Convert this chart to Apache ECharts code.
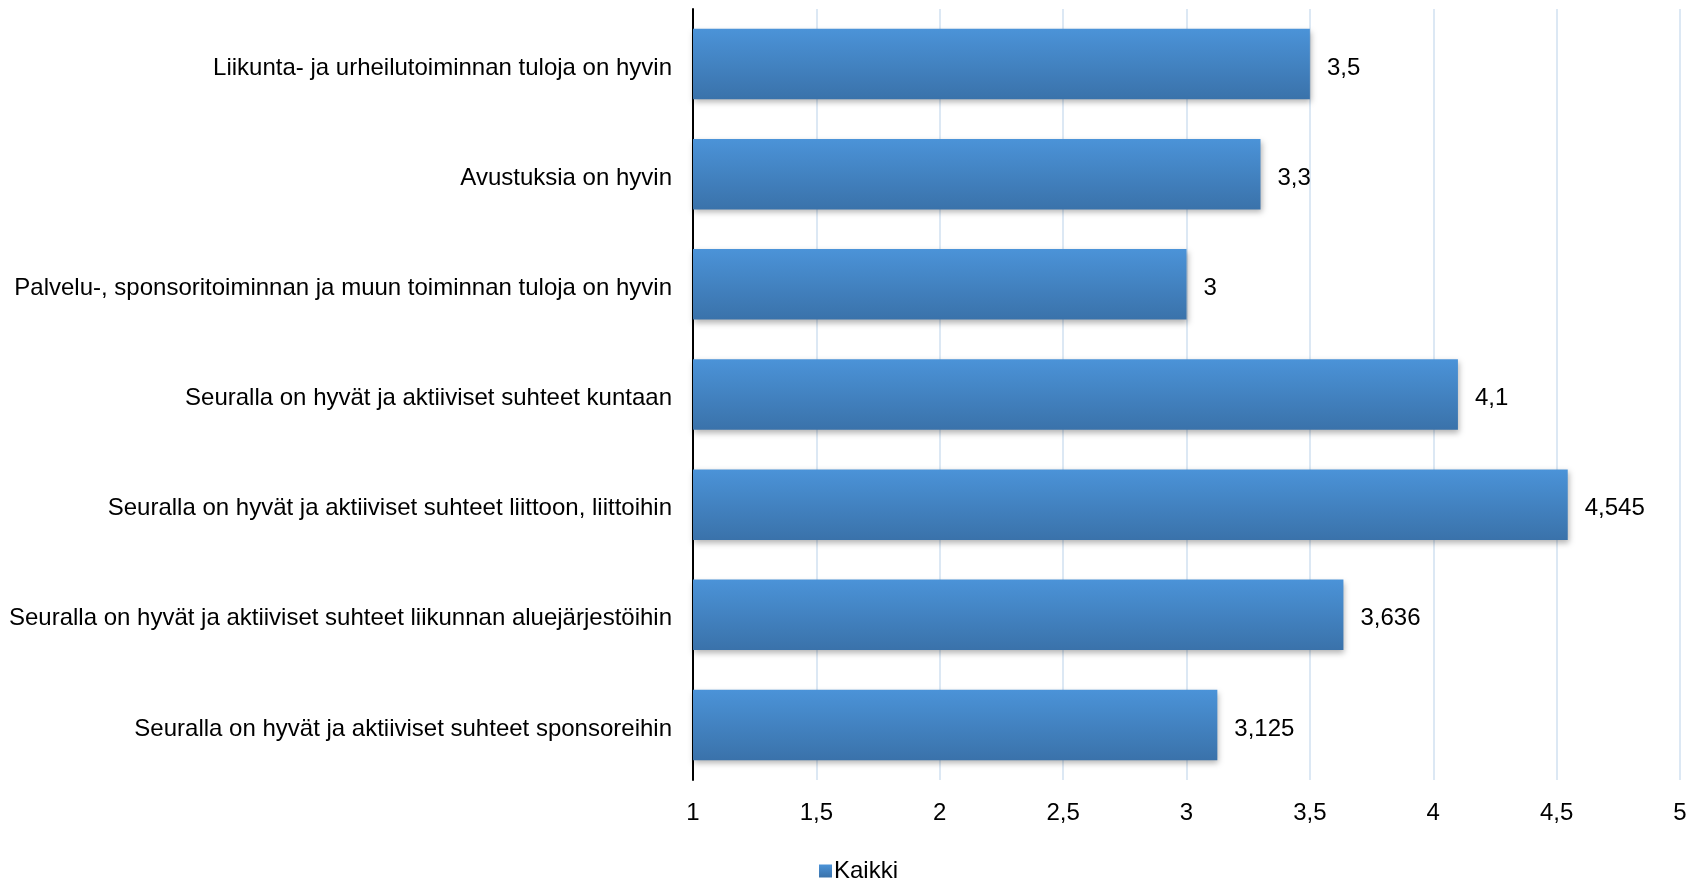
<!DOCTYPE html>
<html><head><meta charset="utf-8">
<script src="https://cdn.jsdelivr.net/npm/echarts@6/dist/echarts.min.js"></script>
<style>html,body{margin:0;padding:0;background:#fff}#c{width:1700px;height:882px}</style>
</head><body><div id="c"></div>
<script>
const categories = [
  "Liikunta- ja urheilutoiminnan tuloja on hyvin",
  "Avustuksia on hyvin",
  "Palvelu-, sponsoritoiminnan ja muun toiminnan tuloja on hyvin",
  "Seuralla on hyvät ja aktiiviset suhteet kuntaan",
  "Seuralla on hyvät ja aktiiviset suhteet liittoon, liittoihin",
  "Seuralla on hyvät ja aktiiviset suhteet liikunnan aluejärjestöihin",
  "Seuralla on hyvät ja aktiiviset suhteet sponsoreihin"
];
const values = [3.5, 3.3, 3, 4.1, 4.545, 3.636, 3.125];
const seriesName = "Kaikki";
const fmt = v => String(v).replace('.', ',');
const FONT = "'Liberation Sans', Arial, sans-serif";
const chart = echarts.init(document.getElementById('c'));
chart.setOption({
  animation: false,
  textStyle: {fontFamily: FONT},
  grid: {left: 693, right: 20, top: 9, bottom: 102, containLabel: false},
  legend: {
    data: [seriesName], bottom: -6, left: 814,
    itemWidth: 13, itemHeight: 13, itemGap: 5, icon: 'rect',
    textStyle: {fontSize: 24, color: '#000', fontFamily: FONT, padding: [0,0,0,-3]}
  },
  xAxis: {
    type: 'value', min: 1, max: 5, interval: 0.5,
    axisLine: {show: false}, axisTick: {show: false},
    splitLine: {lineStyle: {color: '#dce8f4', width: 2}},
    axisLabel: {fontSize: 24, color: '#000', margin: 21, formatter: v => fmt(v)}
  },
  yAxis: {
    type: 'category', data: categories, inverse: true,
    axisLine: {lineStyle: {color: '#000', width: 2}}, axisTick: {show: false},
    axisLabel: {
      color: '#000', margin: 21,
      formatter: v => '{s|}\n{a|' + v + '}',
      rich: {
        s: {fontSize: 1, lineHeight: 8},
        a: {fontSize: 24, lineHeight: 28, color: '#000', fontFamily: FONT}
      }
    }
  },
  series: [{
    name: seriesName, type: 'bar', data: values, barCategoryGap: '36%',
    itemStyle: {
      color: new echarts.graphic.LinearGradient(0, 0, 0, 1, [
        {offset: 0, color: '#4b93d8'}, {offset: 1, color: '#3a72aa'}
      ]),
      shadowColor: 'rgba(0,0,0,0.3)', shadowBlur: 6, shadowOffsetY: 3, shadowOffsetX: 1
    },
    label: {show: true, position: 'right', distance: 17, fontSize: 24, color: '#000',
      offset: [0, 4], formatter: p => fmt(p.value)}
  }]
});
</script></body></html>
